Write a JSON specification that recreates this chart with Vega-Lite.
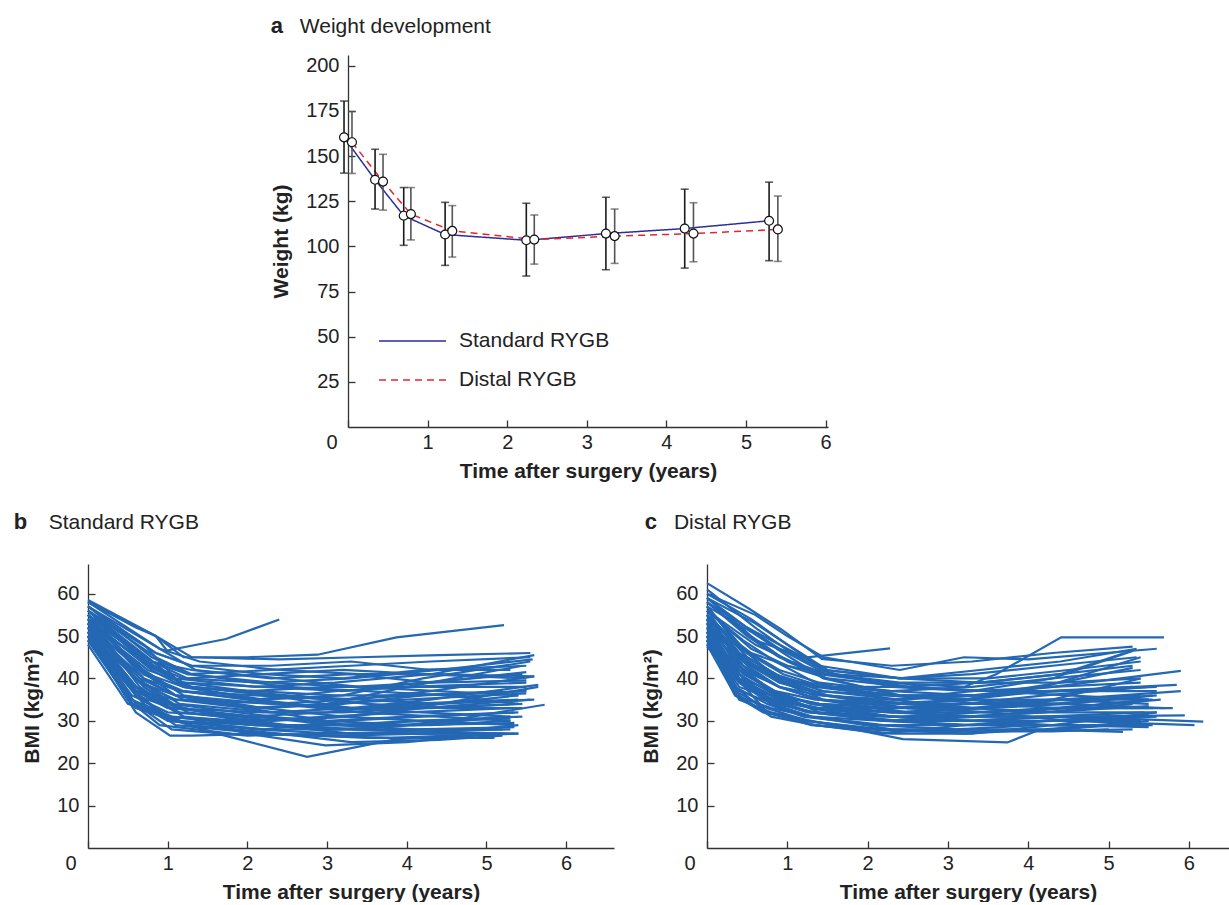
{
"$schema": "https://vega.github.io/schema/vega-lite/v6.json",
"background": "white",
"padding": {"left": 13, "top": 15, "right": 0, "bottom": 0},
"config": {
  "font": "Liberation Sans",
  "view": {"stroke": null},
  "axis": {"grid": false, "domainColor": "#333", "tickColor": "#333", "domainWidth": 1.3, "tickWidth": 1.3, "tickSize": -7, "labelPadding": 12, "labelFont": "Liberation Sans", "labelFontSize": 20, "labelColor": "#222", "titleFont": "Liberation Sans", "titleFontSize": 21, "titleFontWeight": "bold", "titleColor": "#222"},
  "axisX": {"titlePadding": 8},
  "axisY": {"titlePadding": 14, "labelPadding": 16}
},
"datasets": {
"wt": [
{"g":"Standard RYGB","t":-0.05,"w":160.4,"lo":140.6,"hi":180.5},
{"g":"Standard RYGB","t":0.34,"w":136.9,"lo":120.7,"hi":153.8},
{"g":"Standard RYGB","t":0.70,"w":117.0,"lo":100.6,"hi":132.6},
{"g":"Standard RYGB","t":1.22,"w":106.6,"lo":89.5,"hi":124.4},
{"g":"Standard RYGB","t":2.24,"w":103.4,"lo":83.6,"hi":123.9},
{"g":"Standard RYGB","t":3.24,"w":107.1,"lo":87.1,"hi":127.2},
{"g":"Standard RYGB","t":4.23,"w":109.9,"lo":88.0,"hi":131.7},
{"g":"Standard RYGB","t":5.29,"w":114.2,"lo":92.1,"hi":135.6},
{"g":"Distal RYGB","t":0.05,"w":157.7,"lo":140.4,"hi":174.7},
{"g":"Distal RYGB","t":0.44,"w":135.9,"lo":120.1,"hi":151.0},
{"g":"Distal RYGB","t":0.79,"w":117.9,"lo":103.6,"hi":132.6},
{"g":"Distal RYGB","t":1.31,"w":108.6,"lo":94.1,"hi":122.6},
{"g":"Distal RYGB","t":2.34,"w":103.8,"lo":90.2,"hi":117.4},
{"g":"Distal RYGB","t":3.35,"w":105.7,"lo":90.6,"hi":120.7},
{"g":"Distal RYGB","t":4.34,"w":107.1,"lo":91.5,"hi":124.2},
{"g":"Distal RYGB","t":5.40,"w":109.4,"lo":91.7,"hi":127.9}
],
"std": [
{"id":1,"t":0,"v":58.5},{"id":1,"t":0.85,"v":50},{"id":1,"t":1.3,"v":45},{"id":1,"t":2.4,"v":44.5},{"id":1,"t":3.4,"v":45},{"id":1,"t":4.4,"v":45.5},{"id":1,"t":5.55,"v":46},
{"id":2,"t":0,"v":57},{"id":2,"t":0.7,"v":48},{"id":2,"t":1.1,"v":40},{"id":2,"t":2.1,"v":38},{"id":2,"t":3.1,"v":39},{"id":2,"t":4.3,"v":41},{"id":2,"t":5.6,"v":45.5},
{"id":3,"t":0,"v":56},{"id":3,"t":0.75,"v":45},{"id":3,"t":1.2,"v":38},{"id":3,"t":2.2,"v":35},{"id":3,"t":3.2,"v":36},{"id":3,"t":4.2,"v":40},{"id":3,"t":5.55,"v":44},
{"id":4,"t":0,"v":55},{"id":4,"t":0.65,"v":42},{"id":4,"t":1.1,"v":36},{"id":4,"t":2.0,"v":33},{"id":4,"t":3.0,"v":34},{"id":4,"t":4.0,"v":38},{"id":4,"t":5.45,"v":43},
{"id":5,"t":0,"v":54},{"id":5,"t":0.6,"v":40},{"id":5,"t":1.15,"v":33},{"id":5,"t":2.3,"v":30},{"id":5,"t":3.3,"v":31},{"id":5,"t":4.1,"v":33},{"id":5,"t":5.65,"v":38},
{"id":6,"t":0,"v":53},{"id":6,"t":0.7,"v":38},{"id":6,"t":1.25,"v":32},{"id":6,"t":2.5,"v":29},{"id":6,"t":3.4,"v":28},{"id":6,"t":4.5,"v":30},{"id":6,"t":5.73,"v":33.8},
{"id":7,"t":0,"v":52},{"id":7,"t":0.65,"v":36},{"id":7,"t":1.05,"v":30},{"id":7,"t":2.1,"v":28},{"id":7,"t":3.1,"v":27},{"id":7,"t":4.3,"v":27},{"id":7,"t":5.4,"v":27},
{"id":8,"t":0,"v":51},{"id":8,"t":0.7,"v":34},{"id":8,"t":1.1,"v":29},{"id":8,"t":2.2,"v":27},{"id":8,"t":3.2,"v":26.5},{"id":8,"t":4.2,"v":27},{"id":8,"t":5.35,"v":27},
{"id":9,"t":0,"v":50},{"id":9,"t":0.6,"v":32},{"id":9,"t":1.03,"v":26.5},{"id":9,"t":1.3,"v":26.5},{"id":9,"t":2.3,"v":27},{"id":9,"t":3.5,"v":26},{"id":9,"t":5.1,"v":26},
{"id":10,"t":0,"v":49},{"id":10,"t":0.75,"v":33},{"id":10,"t":1.3,"v":29},{"id":10,"t":2.4,"v":27},{"id":10,"t":3.3,"v":25},{"id":10,"t":4.4,"v":25.5},{"id":10,"t":5.2,"v":26.5},
{"id":11,"t":0,"v":55},{"id":11,"t":0.8,"v":44},{"id":11,"t":1.25,"v":40},{"id":11,"t":2.2,"v":41},{"id":11,"t":3.2,"v":42},{"id":11,"t":4.2,"v":41},{"id":11,"t":5.5,"v":40},
{"id":12,"t":0,"v":56},{"id":12,"t":0.85,"v":46},{"id":12,"t":1.3,"v":43},{"id":12,"t":2.3,"v":43},{"id":12,"t":3.3,"v":44},{"id":12,"t":4.3,"v":42},{"id":12,"t":5.3,"v":42},
{"id":13,"t":0,"v":54},{"id":13,"t":0.75,"v":43},{"id":13,"t":1.2,"v":39},{"id":13,"t":2.0,"v":37},{"id":13,"t":3.0,"v":38},{"id":13,"t":4.0,"v":38},{"id":13,"t":5.5,"v":39},
{"id":14,"t":0,"v":53},{"id":14,"t":0.7,"v":41},{"id":14,"t":1.15,"v":37},{"id":14,"t":2.1,"v":36},{"id":14,"t":3.1,"v":35},{"id":14,"t":4.1,"v":36},{"id":14,"t":5.2,"v":37},
{"id":15,"t":0,"v":52},{"id":15,"t":0.65,"v":39},{"id":15,"t":1.1,"v":35},{"id":15,"t":2.4,"v":34},{"id":15,"t":3.4,"v":33},{"id":15,"t":4.4,"v":34},{"id":15,"t":5.4,"v":36},
{"id":16,"t":0,"v":51},{"id":16,"t":0.6,"v":37},{"id":16,"t":1.0,"v":33},{"id":16,"t":2.2,"v":32},{"id":16,"t":3.2,"v":32},{"id":16,"t":4.2,"v":33},{"id":16,"t":5.55,"v":35},
{"id":17,"t":0,"v":50},{"id":17,"t":0.55,"v":36},{"id":17,"t":1.0,"v":32},{"id":17,"t":2.0,"v":31},{"id":17,"t":3.0,"v":30},{"id":17,"t":4.0,"v":31},{"id":17,"t":5.35,"v":32},
{"id":18,"t":0,"v":52},{"id":18,"t":0.6,"v":38},{"id":18,"t":1.05,"v":34},{"id":18,"t":2.3,"v":31},{"id":18,"t":3.3,"v":29},{"id":18,"t":4.3,"v":29},{"id":18,"t":5.3,"v":30},
{"id":19,"t":0,"v":54},{"id":19,"t":0.8,"v":42},{"id":19,"t":1.2,"v":38},{"id":19,"t":2.1,"v":35},{"id":19,"t":3.1,"v":33},{"id":19,"t":4.2,"v":32},{"id":19,"t":5.3,"v":31},
{"id":20,"t":0,"v":56},{"id":20,"t":0.85,"v":45},{"id":20,"t":1.3,"v":41},{"id":20,"t":2.5,"v":38},{"id":20,"t":3.5,"v":37},{"id":20,"t":4.5,"v":36},{"id":20,"t":5.4,"v":34},
{"id":21,"t":0,"v":55},{"id":21,"t":0.8,"v":43},{"id":21,"t":1.2,"v":40},{"id":21,"t":2.2,"v":39},{"id":21,"t":3.3,"v":40},{"id":21,"t":4.4,"v":42},{"id":21,"t":5.58,"v":44.5},
{"id":22,"t":0,"v":53},{"id":22,"t":0.65,"v":40},{"id":22,"t":1.1,"v":36},{"id":22,"t":2.0,"v":33},{"id":22,"t":3.0,"v":30},{"id":22,"t":4.1,"v":29},{"id":22,"t":5.35,"v":29.5},
{"id":23,"t":0,"v":51},{"id":23,"t":0.6,"v":38},{"id":23,"t":1.0,"v":34},{"id":23,"t":1.9,"v":30},{"id":23,"t":2.9,"v":28},{"id":23,"t":3.9,"v":28},{"id":23,"t":5.2,"v":28},
{"id":24,"t":0,"v":50},{"id":24,"t":0.55,"v":35},{"id":24,"t":1.05,"v":31},{"id":24,"t":2.1,"v":29},{"id":24,"t":3.2,"v":29},{"id":24,"t":4.2,"v":30},{"id":24,"t":5.3,"v":30.5},
{"id":25,"t":0,"v":57},{"id":25,"t":0.9,"v":47},{"id":25,"t":1.4,"v":44},{"id":25,"t":2.4,"v":42},{"id":25,"t":3.4,"v":41},{"id":25,"t":4.4,"v":41},{"id":25,"t":5.6,"v":40.5},
{"id":26,"t":0,"v":58},{"id":26,"t":0.85,"v":50},{"id":26,"t":1.2,"v":45},{"id":26,"t":2.0,"v":45},{"id":26,"t":2.88,"v":45.6},{"id":26,"t":3.87,"v":49.7},{"id":26,"t":5.22,"v":52.6},
{"id":27,"t":0,"v":58},{"id":27,"t":0.6,"v":52},{"id":27,"t":0.85,"v":50},{"id":27,"t":0.99,"v":46.6},{"id":27,"t":1.73,"v":49.3},{"id":27,"t":2.4,"v":53.9},
{"id":28,"t":0,"v":49},{"id":28,"t":0.6,"v":33},{"id":28,"t":1.1,"v":30},{"id":28,"t":1.68,"v":26.7},{"id":28,"t":2.75,"v":21.5},{"id":28,"t":3.87,"v":25.7},{"id":28,"t":5.4,"v":27},
{"id":29,"t":0,"v":52},{"id":29,"t":0.65,"v":37},{"id":29,"t":1.2,"v":31},{"id":29,"t":2.0,"v":27},{"id":29,"t":2.98,"v":24.2},{"id":29,"t":4.0,"v":25},{"id":29,"t":5.1,"v":27},
{"id":30,"t":0,"v":54},{"id":30,"t":0.8,"v":44},{"id":30,"t":1.3,"v":42},{"id":30,"t":2.3,"v":40},{"id":30,"t":3.3,"v":41},{"id":30,"t":4.3,"v":39},{"id":30,"t":5.5,"v":39.5},
{"id":31,"t":0,"v":53},{"id":31,"t":0.75,"v":42},{"id":31,"t":1.2,"v":39},{"id":31,"t":2.2,"v":38},{"id":31,"t":3.2,"v":37},{"id":31,"t":4.2,"v":39},{"id":31,"t":5.45,"v":41},
{"id":32,"t":0,"v":52},{"id":32,"t":0.7,"v":40},{"id":32,"t":1.15,"v":37},{"id":32,"t":2.1,"v":35},{"id":32,"t":3.1,"v":37},{"id":32,"t":4.1,"v":38},{"id":32,"t":5.5,"v":38},
{"id":33,"t":0,"v":51},{"id":33,"t":0.65,"v":39},{"id":33,"t":1.1,"v":36},{"id":33,"t":2.3,"v":34},{"id":33,"t":3.3,"v":35},{"id":33,"t":4.3,"v":37},{"id":33,"t":5.6,"v":40.5},
{"id":34,"t":0,"v":50},{"id":34,"t":0.6,"v":36},{"id":34,"t":1.05,"v":33},{"id":34,"t":2.0,"v":31},{"id":34,"t":3.0,"v":32},{"id":34,"t":4.0,"v":34},{"id":34,"t":5.4,"v":35},
{"id":35,"t":0,"v":55},{"id":35,"t":0.7,"v":41},{"id":35,"t":1.2,"v":37},{"id":35,"t":2.4,"v":34},{"id":35,"t":3.4,"v":32},{"id":35,"t":4.4,"v":31},{"id":35,"t":5.3,"v":30},
{"id":36,"t":0,"v":56},{"id":36,"t":0.75,"v":44},{"id":36,"t":1.25,"v":38},{"id":36,"t":2.5,"v":36},{"id":36,"t":3.5,"v":34},{"id":36,"t":4.5,"v":33},{"id":36,"t":5.45,"v":33},
{"id":37,"t":0,"v":54},{"id":37,"t":0.7,"v":42},{"id":37,"t":1.2,"v":36},{"id":37,"t":2.2,"v":33},{"id":37,"t":3.2,"v":31},{"id":37,"t":4.2,"v":30},{"id":37,"t":5.35,"v":29},
{"id":38,"t":0,"v":53},{"id":38,"t":0.8,"v":43},{"id":38,"t":1.3,"v":38},{"id":38,"t":2.3,"v":36},{"id":38,"t":3.3,"v":33},{"id":38,"t":4.3,"v":33},{"id":38,"t":5.4,"v":34},
{"id":39,"t":0,"v":52},{"id":39,"t":0.75,"v":41},{"id":39,"t":1.2,"v":38},{"id":39,"t":2.1,"v":37},{"id":39,"t":3.1,"v":36},{"id":39,"t":4.1,"v":36},{"id":39,"t":5.5,"v":37},
{"id":40,"t":0,"v":57},{"id":40,"t":0.85,"v":46},{"id":40,"t":1.3,"v":43},{"id":40,"t":2.2,"v":41},{"id":40,"t":3.2,"v":40},{"id":40,"t":4.2,"v":42},{"id":40,"t":5.5,"v":43},
{"id":41,"t":0,"v":55},{"id":41,"t":0.8,"v":44},{"id":41,"t":1.25,"v":41},{"id":41,"t":2.3,"v":42},{"id":41,"t":3.3,"v":43},{"id":41,"t":4.3,"v":44},{"id":41,"t":5.55,"v":45},
{"id":42,"t":0,"v":50},{"id":42,"t":0.6,"v":37},{"id":42,"t":1.1,"v":35},{"id":42,"t":2.0,"v":33},{"id":42,"t":3.0,"v":34},{"id":42,"t":4.0,"v":35},{"id":42,"t":5.5,"v":36.5},
{"id":43,"t":0,"v":48},{"id":43,"t":0.5,"v":34},{"id":43,"t":1.0,"v":31},{"id":43,"t":2.1,"v":29},{"id":43,"t":3.1,"v":28},{"id":43,"t":4.1,"v":29},{"id":43,"t":5.3,"v":31},
{"id":44,"t":0,"v":51},{"id":44,"t":0.55,"v":35},{"id":44,"t":1.0,"v":30},{"id":44,"t":2.2,"v":28},{"id":44,"t":3.2,"v":30},{"id":44,"t":4.2,"v":31},{"id":44,"t":5.4,"v":32},
{"id":45,"t":0,"v":53},{"id":45,"t":0.7,"v":39},{"id":45,"t":1.15,"v":34},{"id":45,"t":2.3,"v":32},{"id":45,"t":3.3,"v":33},{"id":45,"t":4.3,"v":35},{"id":45,"t":5.65,"v":38.5},
{"id":46,"t":0,"v":50},{"id":46,"t":0.5,"v":35},{"id":46,"t":0.9,"v":29},{"id":46,"t":1.8,"v":27},{"id":46,"t":2.8,"v":26.5},{"id":46,"t":3.8,"v":26},{"id":46,"t":5.2,"v":27},
{"id":47,"t":0,"v":52},{"id":47,"t":0.6,"v":36},{"id":47,"t":1.1,"v":30},{"id":47,"t":2.2,"v":28},{"id":47,"t":3.2,"v":28},{"id":47,"t":4.2,"v":27.5},{"id":47,"t":5.3,"v":28},
{"id":48,"t":0,"v":54},{"id":48,"t":0.65,"v":38},{"id":48,"t":1.2,"v":31},{"id":48,"t":2.3,"v":29},{"id":48,"t":3.3,"v":27},{"id":48,"t":4.3,"v":27},{"id":48,"t":5.4,"v":29},
{"id":49,"t":0,"v":49},{"id":49,"t":0.55,"v":34},{"id":49,"t":1.1,"v":30},{"id":49,"t":2.1,"v":29},{"id":49,"t":3.1,"v":29},{"id":49,"t":4.1,"v":30},{"id":49,"t":5.45,"v":31},
{"id":50,"t":0,"v":55},{"id":50,"t":0.7,"v":40},{"id":50,"t":1.2,"v":35},{"id":50,"t":2.2,"v":33},{"id":50,"t":3.2,"v":34},{"id":50,"t":4.2,"v":36},{"id":50,"t":5.5,"v":37},
{"id":51,"t":0,"v":56},{"id":51,"t":0.75,"v":43},{"id":51,"t":1.3,"v":38},{"id":51,"t":2.4,"v":36},{"id":51,"t":3.4,"v":35},{"id":51,"t":4.4,"v":34},{"id":51,"t":5.6,"v":35},
{"id":52,"t":0,"v":51},{"id":52,"t":0.6,"v":36},{"id":52,"t":1.0,"v":31},{"id":52,"t":2.0,"v":30},{"id":52,"t":3.0,"v":31},{"id":52,"t":4.0,"v":32},{"id":52,"t":5.3,"v":33},
{"id":53,"t":0,"v":57},{"id":53,"t":0.8,"v":45},{"id":53,"t":1.25,"v":41},{"id":53,"t":2.3,"v":39},{"id":53,"t":3.3,"v":38},{"id":53,"t":4.3,"v":39},{"id":53,"t":5.5,"v":41.5},
{"id":54,"t":0,"v":53},{"id":54,"t":0.7,"v":38},{"id":54,"t":1.1,"v":33},{"id":54,"t":2.1,"v":31},{"id":54,"t":3.1,"v":29},{"id":54,"t":4.1,"v":28},{"id":54,"t":5.35,"v":28.5},
{"id":55,"t":0,"v":52},{"id":55,"t":0.65,"v":37},{"id":55,"t":1.15,"v":32},{"id":55,"t":2.2,"v":30},{"id":55,"t":3.2,"v":31},{"id":55,"t":4.2,"v":33},{"id":55,"t":5.45,"v":34},
{"id":56,"t":0,"v":58},{"id":56,"t":0.9,"v":47},{"id":56,"t":1.35,"v":42},{"id":56,"t":2.4,"v":40},{"id":56,"t":3.4,"v":38},{"id":56,"t":4.4,"v":37},{"id":56,"t":5.4,"v":36},
{"id":57,"t":0,"v":50},{"id":57,"t":0.6,"v":34},{"id":57,"t":1.05,"v":28},{"id":57,"t":2.0,"v":26.5},{"id":57,"t":3.0,"v":27},{"id":57,"t":4.2,"v":27.5},{"id":57,"t":5.25,"v":27}
],
"dis": [
{"id":1,"t":0,"v":62.5},{"id":1,"t":0.52,"v":56.5},{"id":1,"t":0.93,"v":51.5},{"id":1,"t":1.43,"v":44.6},{"id":1,"t":2.3,"v":43},{"id":1,"t":3.3,"v":44},{"id":1,"t":4.3,"v":46},{"id":1,"t":5.3,"v":47.5},
{"id":2,"t":0,"v":60},{"id":2,"t":0.6,"v":55},{"id":2,"t":1.0,"v":50},{"id":2,"t":1.45,"v":45},{"id":2,"t":2.4,"v":42},{"id":2,"t":3.2,"v":45},{"id":2,"t":4.0,"v":44.5},{"id":2,"t":5.6,"v":47},
{"id":3,"t":0,"v":59},{"id":3,"t":0.6,"v":53},{"id":3,"t":1.0,"v":48},{"id":3,"t":1.5,"v":42},{"id":3,"t":2.4,"v":40},{"id":3,"t":3.3,"v":41},{"id":3,"t":4.3,"v":43},{"id":3,"t":5.35,"v":45},
{"id":4,"t":0,"v":58},{"id":4,"t":0.5,"v":50},{"id":4,"t":0.9,"v":45},{"id":4,"t":1.4,"v":41},{"id":4,"t":2.2,"v":39},{"id":4,"t":3.2,"v":38},{"id":4,"t":3.6,"v":41},{"id":4,"t":4.41,"v":49.7},{"id":4,"t":5.69,"v":49.7},
{"id":5,"t":0,"v":57},{"id":5,"t":0.45,"v":47},{"id":5,"t":0.9,"v":42},{"id":5,"t":1.4,"v":39},{"id":5,"t":2.3,"v":37},{"id":5,"t":3.3,"v":36},{"id":5,"t":4.3,"v":38},{"id":5,"t":5.9,"v":41.8},
{"id":6,"t":0,"v":56},{"id":6,"t":0.4,"v":46},{"id":6,"t":0.85,"v":41},{"id":6,"t":1.35,"v":38},{"id":6,"t":2.2,"v":36},{"id":6,"t":3.2,"v":35},{"id":6,"t":4.2,"v":37},{"id":6,"t":5.85,"v":38.5},
{"id":7,"t":0,"v":55},{"id":7,"t":0.45,"v":44},{"id":7,"t":0.9,"v":39},{"id":7,"t":1.5,"v":36},{"id":7,"t":2.4,"v":34},{"id":7,"t":3.4,"v":33},{"id":7,"t":4.4,"v":35},{"id":7,"t":5.9,"v":37},
{"id":8,"t":0,"v":54},{"id":8,"t":0.4,"v":42},{"id":8,"t":0.8,"v":37},{"id":8,"t":1.3,"v":34},{"id":8,"t":2.3,"v":31},{"id":8,"t":3.3,"v":30},{"id":8,"t":4.5,"v":31},{"id":8,"t":6.18,"v":29.8},
{"id":9,"t":0,"v":53},{"id":9,"t":0.5,"v":43},{"id":9,"t":0.9,"v":38},{"id":9,"t":1.4,"v":35},{"id":9,"t":2.5,"v":33},{"id":9,"t":3.5,"v":32},{"id":9,"t":4.5,"v":30},{"id":9,"t":6.07,"v":29},
{"id":10,"t":0,"v":52},{"id":10,"t":0.4,"v":40},{"id":10,"t":0.8,"v":35},{"id":10,"t":1.3,"v":32},{"id":10,"t":2.2,"v":30},{"id":10,"t":3.2,"v":29},{"id":10,"t":4.2,"v":29},{"id":10,"t":5.55,"v":29},
{"id":11,"t":0,"v":51},{"id":11,"t":0.35,"v":38},{"id":11,"t":0.75,"v":34},{"id":11,"t":1.2,"v":31},{"id":11,"t":2.1,"v":29},{"id":11,"t":3.1,"v":28},{"id":11,"t":4.1,"v":28},{"id":11,"t":5.18,"v":27.4},
{"id":12,"t":0,"v":50},{"id":12,"t":0.35,"v":36},{"id":12,"t":0.7,"v":32},{"id":12,"t":1.2,"v":30},{"id":12,"t":2.2,"v":28},{"id":12,"t":3.2,"v":27},{"id":12,"t":4.2,"v":28},{"id":12,"t":5.5,"v":30},
{"id":13,"t":0,"v":49},{"id":13,"t":0.4,"v":35},{"id":13,"t":0.8,"v":32},{"id":13,"t":1.3,"v":30},{"id":13,"t":2.44,"v":25.7},{"id":13,"t":3.74,"v":24.9},{"id":13,"t":4.1,"v":27.6},{"id":13,"t":5.3,"v":28},
{"id":14,"t":0,"v":48},{"id":14,"t":0.4,"v":40},{"id":14,"t":0.8,"v":36},{"id":14,"t":1.4,"v":34},{"id":14,"t":2.3,"v":33},{"id":14,"t":3.3,"v":34},{"id":14,"t":4.3,"v":35},{"id":14,"t":5.5,"v":34},
{"id":15,"t":0,"v":55},{"id":15,"t":0.5,"v":45},{"id":15,"t":0.95,"v":40},{"id":15,"t":1.45,"v":37},{"id":15,"t":2.4,"v":35},{"id":15,"t":3.4,"v":36},{"id":15,"t":4.4,"v":39},{"id":15,"t":5.3,"v":42.5},
{"id":16,"t":0,"v":53},{"id":16,"t":0.45,"v":44},{"id":16,"t":0.9,"v":40},{"id":16,"t":1.4,"v":38},{"id":16,"t":2.3,"v":37},{"id":16,"t":3.3,"v":38},{"id":16,"t":4.3,"v":40},{"id":16,"t":5.4,"v":42},
{"id":17,"t":0,"v":54},{"id":17,"t":0.55,"v":46},{"id":17,"t":1.0,"v":43},{"id":17,"t":1.5,"v":41},{"id":17,"t":2.5,"v":40},{"id":17,"t":3.5,"v":40},{"id":17,"t":4.5,"v":42},{"id":17,"t":5.4,"v":44},
{"id":18,"t":0,"v":56},{"id":18,"t":0.6,"v":48},{"id":18,"t":1.05,"v":44},{"id":18,"t":1.5,"v":41},{"id":18,"t":2.4,"v":39},{"id":18,"t":3.4,"v":39},{"id":18,"t":4.4,"v":41},{"id":18,"t":5.2,"v":46},
{"id":19,"t":0,"v":52},{"id":19,"t":0.5,"v":42},{"id":19,"t":0.9,"v":38},{"id":19,"t":1.4,"v":36},{"id":19,"t":2.3,"v":35},{"id":19,"t":3.3,"v":37},{"id":19,"t":4.3,"v":40},{"id":19,"t":5.3,"v":46.5},
{"id":20,"t":0,"v":51},{"id":20,"t":0.45,"v":41},{"id":20,"t":0.85,"v":37},{"id":20,"t":1.35,"v":35},{"id":20,"t":2.2,"v":34},{"id":20,"t":3.2,"v":35},{"id":20,"t":4.2,"v":38},{"id":20,"t":5.4,"v":45},
{"id":21,"t":0,"v":50},{"id":21,"t":0.4,"v":39},{"id":21,"t":0.8,"v":35},{"id":21,"t":1.3,"v":33},{"id":21,"t":2.3,"v":32},{"id":21,"t":3.3,"v":33},{"id":21,"t":4.3,"v":35},{"id":21,"t":5.4,"v":40},
{"id":22,"t":0,"v":49},{"id":22,"t":0.4,"v":37},{"id":22,"t":0.85,"v":34},{"id":22,"t":1.35,"v":32},{"id":22,"t":2.4,"v":31},{"id":22,"t":3.4,"v":32},{"id":22,"t":4.4,"v":33},{"id":22,"t":5.5,"v":35},
{"id":23,"t":0,"v":48},{"id":23,"t":0.35,"v":36},{"id":23,"t":0.8,"v":33},{"id":23,"t":1.3,"v":31},{"id":23,"t":2.2,"v":30},{"id":23,"t":3.2,"v":31},{"id":23,"t":4.2,"v":32},{"id":23,"t":5.5,"v":33.5},
{"id":24,"t":0,"v":57},{"id":24,"t":0.5,"v":45},{"id":24,"t":0.95,"v":40},{"id":24,"t":1.45,"v":36},{"id":24,"t":2.5,"v":33},{"id":24,"t":3.5,"v":32},{"id":24,"t":4.5,"v":33},{"id":24,"t":5.8,"v":33},
{"id":25,"t":0,"v":55},{"id":25,"t":0.45,"v":43},{"id":25,"t":0.9,"v":38},{"id":25,"t":1.4,"v":35},{"id":25,"t":2.4,"v":32},{"id":25,"t":3.4,"v":31},{"id":25,"t":4.4,"v":31},{"id":25,"t":5.95,"v":31.3},
{"id":26,"t":0,"v":53},{"id":26,"t":0.4,"v":41},{"id":26,"t":0.85,"v":36},{"id":26,"t":1.3,"v":33},{"id":26,"t":2.3,"v":31},{"id":26,"t":3.3,"v":30},{"id":26,"t":4.3,"v":30},{"id":26,"t":5.6,"v":31},
{"id":27,"t":0,"v":52},{"id":27,"t":0.4,"v":39},{"id":27,"t":0.8,"v":34},{"id":27,"t":1.3,"v":31},{"id":27,"t":2.2,"v":29},{"id":27,"t":3.2,"v":29},{"id":27,"t":4.2,"v":30},{"id":27,"t":5.4,"v":30},
{"id":28,"t":0,"v":50},{"id":28,"t":0.35,"v":37},{"id":28,"t":0.75,"v":33},{"id":28,"t":1.25,"v":30},{"id":28,"t":2.1,"v":28},{"id":28,"t":3.1,"v":28},{"id":28,"t":4.1,"v":29},{"id":28,"t":5.3,"v":29},
{"id":29,"t":0,"v":54},{"id":29,"t":0.5,"v":44},{"id":29,"t":0.95,"v":40},{"id":29,"t":1.5,"v":38},{"id":29,"t":2.4,"v":38},{"id":29,"t":3.4,"v":39},{"id":29,"t":4.4,"v":39},{"id":29,"t":5.4,"v":40},
{"id":30,"t":0,"v":56},{"id":30,"t":0.55,"v":47},{"id":30,"t":1.0,"v":43},{"id":30,"t":1.5,"v":40},{"id":30,"t":2.5,"v":38},{"id":30,"t":3.5,"v":37},{"id":30,"t":4.5,"v":37},{"id":30,"t":5.6,"v":37},
{"id":31,"t":0,"v":51},{"id":31,"t":0.45,"v":40},{"id":31,"t":0.9,"v":36},{"id":31,"t":1.4,"v":34},{"id":31,"t":2.3,"v":33},{"id":31,"t":3.3,"v":33},{"id":31,"t":4.3,"v":34},{"id":31,"t":5.6,"v":36},
{"id":32,"t":0,"v":49},{"id":32,"t":0.4,"v":38},{"id":32,"t":0.85,"v":35},{"id":32,"t":1.35,"v":33},{"id":32,"t":2.2,"v":33},{"id":32,"t":3.2,"v":34},{"id":32,"t":4.2,"v":36},{"id":32,"t":5.5,"v":38},
{"id":33,"t":0,"v":58},{"id":33,"t":0.6,"v":49},{"id":33,"t":1.22,"v":44.9},{"id":33,"t":2.28,"v":47.1},
{"id":34,"t":0,"v":60},{"id":34,"t":0.55,"v":54},{"id":34,"t":1.0,"v":48},{"id":34,"t":1.45,"v":42},{"id":34,"t":2.4,"v":40},{"id":34,"t":3.4,"v":42},{"id":34,"t":4.4,"v":44},{"id":34,"t":5.35,"v":47},
{"id":35,"t":0,"v":47.5},{"id":35,"t":0.4,"v":40},{"id":35,"t":0.8,"v":36},{"id":35,"t":1.3,"v":33},{"id":35,"t":2.3,"v":32},{"id":35,"t":3.3,"v":32},{"id":35,"t":4.3,"v":33},{"id":35,"t":5.4,"v":34.5},
{"id":36,"t":0,"v":50},{"id":36,"t":0.45,"v":42},{"id":36,"t":0.9,"v":38},{"id":36,"t":1.4,"v":35},{"id":36,"t":2.4,"v":34},{"id":36,"t":3.4,"v":35},{"id":36,"t":4.4,"v":35},{"id":36,"t":5.55,"v":35},
{"id":37,"t":0,"v":52},{"id":37,"t":0.5,"v":44},{"id":37,"t":0.95,"v":39},{"id":37,"t":1.45,"v":36},{"id":37,"t":2.5,"v":34},{"id":37,"t":3.5,"v":34},{"id":37,"t":4.5,"v":34},{"id":37,"t":5.55,"v":33},
{"id":38,"t":0,"v":53},{"id":38,"t":0.4,"v":40},{"id":38,"t":0.8,"v":34},{"id":38,"t":1.3,"v":31},{"id":38,"t":2.3,"v":28},{"id":38,"t":3.3,"v":27.5},{"id":38,"t":4.3,"v":27.5},{"id":38,"t":5.0,"v":28},
{"id":39,"t":0,"v":54},{"id":39,"t":0.35,"v":38},{"id":39,"t":0.75,"v":32},{"id":39,"t":1.3,"v":29},{"id":39,"t":2.4,"v":27.5},{"id":39,"t":3.4,"v":27.5},{"id":39,"t":4.4,"v":28},{"id":39,"t":5.4,"v":29.5},
{"id":40,"t":0,"v":51},{"id":40,"t":0.4,"v":36},{"id":40,"t":0.8,"v":31},{"id":40,"t":1.35,"v":29},{"id":40,"t":2.3,"v":27},{"id":40,"t":3.3,"v":27},{"id":40,"t":4.3,"v":29},{"id":40,"t":5.6,"v":32},
{"id":41,"t":0,"v":55},{"id":41,"t":0.45,"v":42},{"id":41,"t":0.9,"v":36},{"id":41,"t":1.4,"v":32},{"id":41,"t":2.4,"v":30},{"id":41,"t":3.4,"v":31},{"id":41,"t":4.4,"v":33},{"id":41,"t":5.65,"v":35},
{"id":42,"t":0,"v":57},{"id":42,"t":0.5,"v":46},{"id":42,"t":0.95,"v":39},{"id":42,"t":1.45,"v":35},{"id":42,"t":2.5,"v":32},{"id":42,"t":3.5,"v":33},{"id":42,"t":4.5,"v":34},{"id":42,"t":5.55,"v":36},
{"id":43,"t":0,"v":59},{"id":43,"t":0.55,"v":50},{"id":43,"t":1.0,"v":44},{"id":43,"t":1.5,"v":40},{"id":43,"t":2.4,"v":36},{"id":43,"t":3.4,"v":36},{"id":43,"t":4.4,"v":37},{"id":43,"t":5.3,"v":38},
{"id":44,"t":0,"v":61},{"id":44,"t":0.6,"v":52},{"id":44,"t":1.05,"v":46},{"id":44,"t":1.55,"v":41},{"id":44,"t":2.5,"v":38},{"id":44,"t":3.5,"v":37},{"id":44,"t":4.5,"v":36},{"id":44,"t":5.5,"v":35},
{"id":45,"t":0,"v":48},{"id":45,"t":0.74,"v":32.2},{"id":45,"t":1.31,"v":29.1},{"id":45,"t":2.2,"v":27},{"id":45,"t":3.2,"v":29},{"id":45,"t":4.2,"v":30},{"id":45,"t":5.5,"v":31.5},
{"id":46,"t":0,"v":58},{"id":46,"t":0.5,"v":52},{"id":46,"t":0.9,"v":47},{"id":46,"t":1.4,"v":42},{"id":46,"t":2.3,"v":38},{"id":46,"t":3.3,"v":37},{"id":46,"t":4.3,"v":38},{"id":46,"t":5.4,"v":39},
{"id":47,"t":0,"v":57},{"id":47,"t":0.55,"v":51},{"id":47,"t":0.95,"v":46},{"id":47,"t":1.45,"v":40},{"id":47,"t":2.4,"v":36},{"id":47,"t":3.4,"v":34},{"id":47,"t":4.4,"v":33},{"id":47,"t":5.5,"v":33},
{"id":48,"t":0,"v":56},{"id":48,"t":0.45,"v":49},{"id":48,"t":0.85,"v":44},{"id":48,"t":1.35,"v":39},{"id":48,"t":2.3,"v":35},{"id":48,"t":3.3,"v":33},{"id":48,"t":4.3,"v":32},{"id":48,"t":5.6,"v":32},
{"id":49,"t":0,"v":59},{"id":49,"t":0.5,"v":52},{"id":49,"t":0.9,"v":48},{"id":49,"t":1.4,"v":43},{"id":49,"t":2.4,"v":40},{"id":49,"t":3.4,"v":39},{"id":49,"t":4.4,"v":41},{"id":49,"t":5.3,"v":43},
{"id":50,"t":0,"v":53},{"id":50,"t":0.4,"v":43},{"id":50,"t":0.8,"v":37},{"id":50,"t":1.3,"v":33},{"id":50,"t":2.2,"v":30},{"id":50,"t":3.2,"v":30},{"id":50,"t":4.2,"v":31},{"id":50,"t":5.45,"v":32},
{"id":51,"t":0,"v":52},{"id":51,"t":0.4,"v":41},{"id":51,"t":0.8,"v":35},{"id":51,"t":1.3,"v":32},{"id":51,"t":2.3,"v":30},{"id":51,"t":3.3,"v":29},{"id":51,"t":4.3,"v":30},{"id":51,"t":5.5,"v":31},
{"id":52,"t":0,"v":51},{"id":52,"t":0.35,"v":40},{"id":52,"t":0.75,"v":35},{"id":52,"t":1.25,"v":32},{"id":52,"t":2.2,"v":31},{"id":52,"t":3.2,"v":31},{"id":52,"t":4.2,"v":32},{"id":52,"t":5.3,"v":34},
{"id":53,"t":0,"v":54},{"id":53,"t":0.45,"v":45},{"id":53,"t":0.85,"v":40},{"id":53,"t":1.35,"v":37},{"id":53,"t":2.3,"v":36},{"id":53,"t":3.3,"v":36},{"id":53,"t":4.3,"v":37},{"id":53,"t":5.6,"v":38},
{"id":54,"t":0,"v":55},{"id":54,"t":0.5,"v":46},{"id":54,"t":0.95,"v":41},{"id":54,"t":1.45,"v":38},{"id":54,"t":2.4,"v":36},{"id":54,"t":3.4,"v":35},{"id":54,"t":4.4,"v":34},{"id":54,"t":5.7,"v":33},
{"id":55,"t":0,"v":50},{"id":55,"t":0.4,"v":42},{"id":55,"t":0.85,"v":37},{"id":55,"t":1.3,"v":34},{"id":55,"t":2.3,"v":32},{"id":55,"t":3.3,"v":31},{"id":55,"t":4.3,"v":31},{"id":55,"t":5.4,"v":30},
{"id":56,"t":0,"v":49},{"id":56,"t":0.45,"v":39},{"id":56,"t":0.9,"v":35},{"id":56,"t":1.4,"v":33},{"id":56,"t":2.3,"v":31},{"id":56,"t":3.3,"v":30},{"id":56,"t":4.3,"v":29},{"id":56,"t":5.5,"v":28.5},
{"id":57,"t":0,"v":53},{"id":57,"t":0.5,"v":44},{"id":57,"t":0.95,"v":39},{"id":57,"t":1.5,"v":36},{"id":57,"t":2.5,"v":34},{"id":57,"t":3.5,"v":34},{"id":57,"t":4.5,"v":35},{"id":57,"t":5.4,"v":36}
]
},
"vconcat": [
 {"hconcat": [
   {"width": 182, "height": 10, "data": {"values": []}, "mark": "point", "encoding": {}},
   {"width": 480, "height": 372,
    "title": {"text": "a", "subtitle": "\u200b\u00a0\u00a0\u00a0\u00a0\u00a0Weight development", "anchor": "start", "frame": "bounds", "dx": 0, "offset": 17, "fontSize": 22, "fontWeight": "bold", "color": "#222", "subtitleFontSize": 21, "subtitleFontWeight": "normal", "subtitleColor": "#222", "subtitlePadding": -22, "font": "Liberation Sans", "subtitleFont": "Liberation Sans"},
    "data": {"name": "wt"},
    "layer": [
      {"mark": {"type": "line", "strokeWidth": 1.5},
       "encoding": {
         "x": {"field": "t", "type": "quantitative", "scale": {"domain": [0, 6.03], "nice": false, "zero": false}, "title": "Time after surgery (years)", "axis": {"values": [0,1,2,3,4,5,6], "format": "d", "labelOffset": {"condition": {"test": "datum.value === 0", "value": -22}, "value": 0}}},
         "y": {"field": "w", "type": "quantitative", "scale": {"domain": [0, 206], "nice": false}, "title": "Weight (kg)", "axis": {"values": [25,50,75,100,125,150,175,200]}},
         "color": {"field": "g", "type": "nominal", "scale": {"domain": ["Standard RYGB", "Distal RYGB"], "range": ["#2b2d9b", "#e3262e"]}, "legend": {"title": null, "orient": "none", "legendX": 290, "legendY": 274, "symbolType": "stroke", "symbolSize": 4489, "symbolStrokeWidth": 1.5, "clipHeight": 24, "labelFontSize": 21, "labelColor": "#222", "labelFont": "Liberation Sans", "labelOffset": 12, "rowPadding": 15}},
         "strokeDash": {"field": "g", "type": "nominal", "scale": {"domain": ["Standard RYGB", "Distal RYGB"], "range": [[1,0],[7,5]]}, "legend": {"title": null, "orient": "none", "legendX": 290, "legendY": 274, "symbolType": "stroke", "symbolSize": 4489, "symbolStrokeWidth": 1.5, "clipHeight": 24, "labelFontSize": 21, "labelColor": "#222", "labelFont": "Liberation Sans", "labelOffset": 12, "rowPadding": 15}}
       }},
      {"mark": {"type": "rule", "strokeWidth": 1.6},
       "encoding": {"x": {"field": "t", "type": "quantitative"}, "y": {"field": "lo", "type": "quantitative"}, "y2": {"field": "hi"},
         "color": {"condition": {"test": "datum.g === 'Distal RYGB'", "value": "#555555"}, "value": "#1a1a1a"}}},
      {"mark": {"type": "tick", "orient": "horizontal", "size": 8, "thickness": 1.6},
       "encoding": {"x": {"field": "t", "type": "quantitative"}, "y": {"field": "lo", "type": "quantitative"},
         "color": {"condition": {"test": "datum.g === 'Distal RYGB'", "value": "#555555"}, "value": "#1a1a1a"}}},
      {"mark": {"type": "tick", "orient": "horizontal", "size": 8, "thickness": 1.6},
       "encoding": {"x": {"field": "t", "type": "quantitative"}, "y": {"field": "hi", "type": "quantitative"},
         "color": {"condition": {"test": "datum.g === 'Distal RYGB'", "value": "#555555"}, "value": "#1a1a1a"}}},
      {"mark": {"type": "point", "shape": "circle", "filled": true, "fill": "white", "stroke": "#111", "strokeWidth": 1.2, "size": 80, "opacity": 1},
       "encoding": {"x": {"field": "t", "type": "quantitative"}, "y": {"field": "w", "type": "quantitative"}}}
    ]}
 ], "spacing": 0},
 {"hconcat": [
   {"width": 526, "height": 284,
    "title": {"text": "b", "subtitle": "\u200b\u00a0\u00a0\u00a0\u00a0\u00a0\u00a0Standard RYGB", "anchor": "start", "frame": "bounds", "dx": -8, "offset": 30, "fontSize": 22, "fontWeight": "bold", "color": "#222", "subtitleFontSize": 21, "subtitleFontWeight": "normal", "subtitleColor": "#222", "subtitlePadding": -22, "font": "Liberation Sans", "subtitleFont": "Liberation Sans"},
    "data": {"name": "std"},
    "mark": {"type": "line", "strokeWidth": 2.2, "color": "#2468b4"},
    "encoding": {
      "x": {"field": "t", "type": "quantitative", "scale": {"domain": [0, 6.6], "nice": false, "zero": false}, "title": "Time after surgery (years)", "axis": {"values": [0,1,2,3,4,5,6], "format": "d", "labelOffset": {"condition": {"test": "datum.value === 0", "value": -23}, "value": 0}}},
      "y": {"field": "v", "type": "quantitative", "scale": {"domain": [0, 67], "nice": false}, "title": "BMI (kg/m²)", "axis": {"values": [10,20,30,40,50,60]}},
      "detail": {"field": "id", "type": "nominal"}
    }},
   {"width": 522, "height": 284,
    "title": {"text": "c", "subtitle": "\u200b\u00a0\u00a0\u00a0\u00a0\u00a0Distal RYGB", "anchor": "start", "frame": "bounds", "dx": 4, "offset": 30, "fontSize": 22, "fontWeight": "bold", "color": "#222", "subtitleFontSize": 21, "subtitleFontWeight": "normal", "subtitleColor": "#222", "subtitlePadding": -22, "font": "Liberation Sans", "subtitleFont": "Liberation Sans"},
    "data": {"name": "dis"},
    "mark": {"type": "line", "strokeWidth": 2.2, "color": "#2468b4"},
    "encoding": {
      "x": {"field": "t", "type": "quantitative", "scale": {"domain": [0, 6.5], "nice": false, "zero": false}, "title": "Time after surgery (years)", "axis": {"values": [0,1,2,3,4,5,6], "format": "d", "labelOffset": {"condition": {"test": "datum.value === 0", "value": -23}, "value": 0}}},
      "y": {"field": "v", "type": "quantitative", "scale": {"domain": [0, 67], "nice": false}, "title": "BMI (kg/m²)", "axis": {"values": [10,20,30,40,50,60]}},
      "detail": {"field": "id", "type": "nominal"}
    }}
 ], "spacing": 26}
],
"spacing": 30
}
